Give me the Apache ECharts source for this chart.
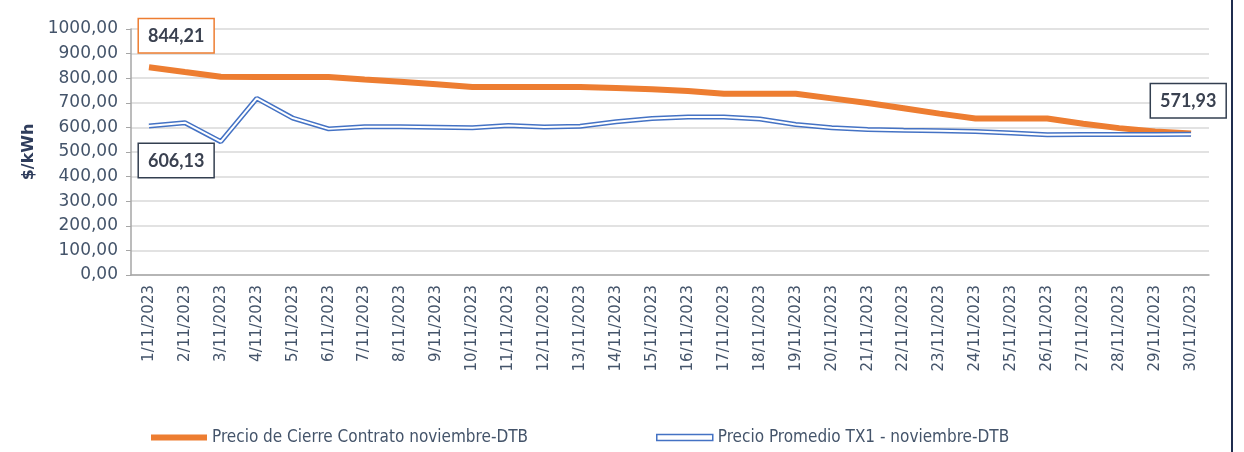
<!DOCTYPE html>
<html>
<head>
<meta charset="utf-8">
<script src="https://cdn.jsdelivr.net/npm/echarts@6/dist/echarts.min.js"></script>
<style>
  html, body { margin: 0; padding: 0; background: #fff; }
  #chart { width: 1244px; height: 452px; }
</style>
</head>
<body>
<div id="chart"></div>
<script>
// dias de noviembre
let dias = [];
for (let d = 1; d <= 30; d++) { dias.push(d + '/11/2023'); }

// Precio de Cierre Contrato noviembre-DTB
let precioCierre = [844.21, 825, 806, 805, 805, 805, 795, 786, 775, 764,
                    764, 764, 764, 760, 755, 748, 737, 737, 737, 718,
                    699, 678, 656, 636, 636, 636, 615, 597, 583, 575];

// Precio Promedio TX1 - noviembre-DTB
let precioTX1 = [606.13, 619, 542, 718, 638, 594, 603, 603, 601, 599,
                 608, 602, 605, 623, 636, 642, 642, 634, 612, 599,
                 591, 588, 586, 583, 577, 570, 571, 571, 571, 571.93];

let yTicks = [0, 100, 200, 300, 400, 500, 600, 700, 800, 900, 1000];

let txtColor = '#44546a';
let fmt = function (v) { return Number(v).toFixed(2).replace('.', ','); };

function boxLabel(borderColor, pos) {
    return {
        show: true,
        position: pos,
        formatter: function (p) { return fmt(p.value); },
        fontFamily: 'Lato',
        fontWeight: 'bold',
        fontSize: 18,
        color: '#3a4150',
        backgroundColor: '#fff',
        borderColor: borderColor,
        borderWidth: 1.5,
        padding: [8, 9, 7, 9]
    };
}

let dataCierre = precioCierre.map(function (v, i) {
    if (i === 0) { return { value: v, label: boxLabel('#ed7d31', [-10, -48]) }; }
    return v;
});
let dataTX1 = precioTX1.map(function (v, i) {
    if (i === 0) { return { value: v, label: boxLabel('#333f50', [-10, 18]) }; }
    if (i === precioTX1.length - 1) { return { value: v, label: boxLabel('#333f50', [-40, -50]) }; }
    return v;
});

let myChart = echarts.init(document.getElementById('chart'));

let option = {
    animation: false,
    backgroundColor: '#fff',
    grid: { left: 131, right: 35, top: 29, bottom: 177 },
    legend: {
        bottom: 1,
        left: 146,
        itemGap: 128,
        itemWidth: 56,
        itemHeight: 6,
        textStyle: { fontFamily: 'DejaVu Sans Condensed', fontSize: 17, color: txtColor },
        data: [
            { name: 'Precio de Cierre Contrato noviembre-DTB', icon: 'rect',
              itemStyle: { color: '#ed7d31' } },
            { name: 'Precio Promedio TX1 - noviembre-DTB', icon: 'rect',
              itemStyle: { color: '#fff', borderColor: '#4472c4', borderWidth: 1.5 } }
        ]
    },
    xAxis: {
        type: 'category',
        boundaryGap: true,
        data: dias,
        axisLine: { lineStyle: { color: '#a6a6a6', width: 1.5 } },
        axisTick: { show: false },
        axisLabel: {
            rotate: 90,
            interval: 0,
            margin: 10,
            fontFamily: 'DejaVu Sans',
            fontSize: 15,
            color: txtColor
        }
    },
    yAxis: {
        type: 'value',
        min: yTicks[0],
        max: yTicks[yTicks.length - 1],
        interval: 100,
        name: '$/kWh',
        nameLocation: 'middle',
        nameGap: 92,
        nameTextStyle: { fontFamily: 'DejaVu Sans', fontWeight: 'bold', fontSize: 16, color: '#2f3d5c' },
        axisLine: { show: true, lineStyle: { color: '#a6a6a6', width: 1.5 } },
        axisTick: { show: true, length: 5, lineStyle: { color: '#a6a6a6' } },
        axisLabel: {
            margin: 13,
            fontFamily: 'DejaVu Sans',
            fontSize: 17,
            color: txtColor,
            formatter: function (v) { return fmt(v); }
        },
        splitLine: { lineStyle: { color: '#d9d9d9', width: 1.5 } }
    },
    series: [
        {
            name: 'Precio de Cierre Contrato noviembre-DTB',
            type: 'line',
            data: dataCierre,
            symbol: 'circle',
            symbolSize: 0,
            showSymbol: true,
            itemStyle: { color: '#ed7d31' },
            lineStyle: { color: '#ed7d31', width: 6 },
            z: 2
        },
        {
            name: 'Precio Promedio TX1 - noviembre-DTB',
            type: 'line',
            data: dataTX1,
            symbol: 'circle',
            symbolSize: 0,
            showSymbol: true,
            itemStyle: { color: '#4472c4' },
            lineStyle: { color: '#4472c4', width: 5 },
            z: 3
        },
        {
            // linea blanca interior (doble linea)
            name: 'TX1-centro',
            type: 'line',
            data: precioTX1,
            symbol: 'none',
            lineStyle: { color: '#fff', width: 2 },
            silent: true,
            z: 4
        }
    ],
    graphic: [
        {
            type: 'rect',
            shape: { x: 1231, y: 0, width: 2, height: 452 },
            style: { fill: '#1f2d4f' }
        }
    ]
};

myChart.setOption(option);
</script>
</body>
</html>
